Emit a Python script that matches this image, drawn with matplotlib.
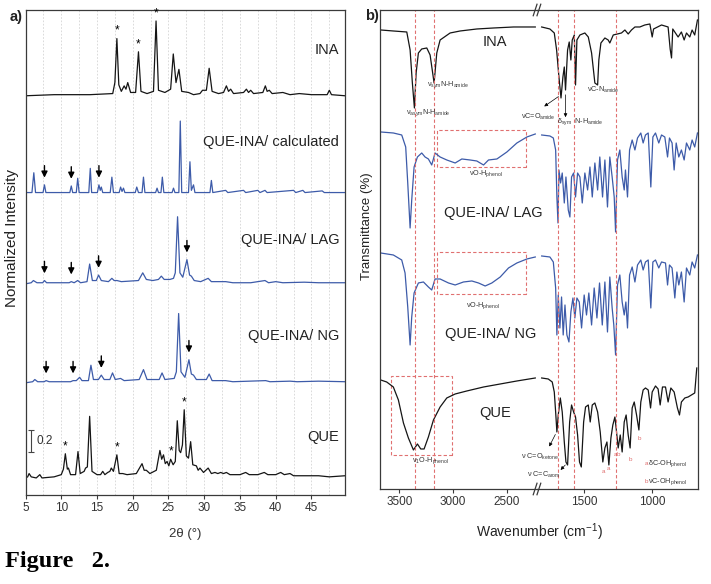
import matplotlib as mpl
import matplotlib.pyplot as plt
import matplotlib.patches as patches
import numpy as np

mpl.use("Agg")
plt.rcParams["font.family"] = ["Liberation Sans", "DejaVu Sans"]
plt.rcParams["mathtext.fontset"] = "custom"
plt.rcParams["mathtext.rm"] = "Liberation Sans"
plt.rcParams["mathtext.it"] = "Liberation Sans:italic"

# ---------------- a) PXRD patterns (2theta, normalized intensity) ----------------
ina_x = [5.0, 9.0, 14.0, 17.2, 17.5, 17.78, 18.05, 18.4, 18.8, 19.05, 19.3, 19.7, 20.4, 20.8, 21.15,
         22.0, 22.9, 23.26, 23.6, 24.5, 25.3, 25.67, 26.05, 26.46, 26.85, 27.8, 28.5, 29.4, 29.76,
         30.3, 30.69, 31.1, 32.0, 32.7, 33.1, 33.4, 33.7, 34.1, 35.5, 35.9, 36.2, 36.5, 36.9, 38.2,
         38.55, 38.8, 39.1, 39.5, 41.0, 42.0, 43.3, 45.0, 47.2, 47.5, 47.8, 49.7]
ina_y = [0.0, 0.01, 0.01, 0.02, 0.12, 0.52, 0.10, 0.04, 0.09, 0.06, 0.12, 0.03, 0.03, 0.40, 0.04,
         0.02, 0.04, 0.68, 0.05, 0.03, 0.06, 0.38, 0.12, 0.24, 0.04, 0.03, 0.01, 0.02, 0.05,
         0.05, 0.25, 0.04, 0.02, 0.03, 0.09, 0.04, 0.06, 0.02, 0.03, 0.06, 0.03, 0.05, 0.02, 0.03,
         0.09, 0.04, 0.05, 0.02, 0.03, 0.01, 0.02, 0.01, 0.01, 0.05, 0.01, 0.0]

calc_x = [5.0, 5.9, 6.16, 6.4, 7.45, 7.65, 7.85, 11.2, 11.4, 11.6, 12.1, 12.3, 12.5, 13.85, 14.06,
          14.25, 15.05, 15.27, 15.45, 15.6, 15.8, 16.85, 17.08, 17.3, 18.1, 18.3, 18.5, 18.7, 18.9,
          20.35, 20.56, 20.8, 21.3, 21.5, 21.7, 23.2, 23.4, 23.6, 23.95, 24.14, 24.35, 25.5, 25.7,
          25.9, 26.45, 26.65, 26.85, 27.8, 28.0, 28.2, 28.5, 28.7, 30.8, 31.0, 31.2, 33.0, 33.3,
          35.5, 35.8, 37.5, 37.8, 38.5, 38.8, 42.5, 42.8, 43.8, 44.1, 46.5, 46.8, 49.7]
calc_y = [0.0, 0.0, 0.18, 0.0, 0.0, 0.07, 0.0, 0.0, 0.06, 0.0, 0.0, 0.13, 0.0, 0.0, 0.22,
          0.0, 0.0, 0.07, 0.02, 0.05, 0.0, 0.0, 0.14, 0.0, 0.0, 0.05, 0.01, 0.04, 0.0,
          0.0, 0.05, 0.0, 0.0, 0.14, 0.0, 0.0, 0.04, 0.0, 0.0, 0.14, 0.0, 0.0, 0.04,
          0.0, 0.0, 0.65, 0.0, 0.0, 0.28, 0.02, 0.07, 0.0, 0.0, 0.11, 0.0, 0.02, 0.0,
          0.02, 0.0, 0.02, 0.0, 0.02, 0.0, 0.02, 0.0, 0.02, 0.0, 0.015, 0.0, 0.0]

lag_x = [5.0, 5.8, 6.1, 6.6, 7.4, 7.65, 7.95, 11.1, 11.4, 11.8, 12.3, 12.7, 13.6, 13.97, 14.35,
         14.9, 15.22, 15.6, 16.6, 17.08, 17.4, 17.8, 18.4, 20.8, 21.4, 21.9, 22.8, 23.6, 24.0,
         24.4, 25.2, 25.7, 25.95, 26.27, 26.6, 27.0, 27.58, 27.95, 28.2, 28.6, 29.5, 30.55, 31.0,
         33.0, 34.0, 36.5, 37.5, 38.5, 39.0, 40.0, 41.0, 44.0, 46.0, 49.7]
lag_y = [0.0, 0.01, 0.03, 0.01, 0.01, 0.03, 0.01, 0.01, 0.02, 0.01, 0.03, 0.01, 0.02, 0.18, 0.03,
         0.03, 0.08, 0.03, 0.02, 0.05, 0.03, 0.03, 0.02, 0.03, 0.10, 0.04, 0.03, 0.04, 0.07,
         0.04, 0.04, 0.05, 0.10, 0.61, 0.10, 0.06, 0.22, 0.08, 0.07, 0.03, 0.02, 0.05, 0.02,
         0.02, 0.01, 0.01, 0.02, 0.03, 0.01, 0.02, 0.01, 0.015, 0.01, 0.01]

ng_x = [5.0, 6.0, 6.3, 6.7, 7.6, 7.88, 8.3, 11.3, 11.65, 12.1, 12.57, 12.9, 13.8, 14.15, 14.5,
        15.2, 15.6, 16.0, 16.8, 17.17, 17.55, 18.3, 18.8, 20.9, 21.5, 22.0, 23.7, 24.1, 24.5,
        25.8, 26.1, 26.42, 26.75, 27.3, 27.86, 28.2, 28.5, 28.9, 30.3, 30.69, 31.1, 33.0, 34.0,
        38.6, 39.2, 42.0, 43.0, 46.0, 49.7]
ng_y = [0.0, 0.01, 0.03, 0.01, 0.01, 0.02, 0.01, 0.01, 0.02, 0.02, 0.05, 0.02, 0.02, 0.16, 0.03,
        0.03, 0.07, 0.03, 0.03, 0.09, 0.03, 0.04, 0.02, 0.03, 0.12, 0.03, 0.03, 0.09, 0.03,
        0.04, 0.10, 0.63, 0.10, 0.05, 0.21, 0.08, 0.07, 0.03, 0.03, 0.08, 0.02, 0.02, 0.01,
        0.02, 0.01, 0.015, 0.01, 0.015, 0.01]

que_x = [5.0, 5.3, 5.5, 5.8, 6.5, 7.0, 7.3, 9.0, 10.0, 10.3, 10.57, 10.85, 11.0, 11.3, 12.0,
         12.34, 12.65, 13.2, 13.4, 13.65, 13.97, 14.3, 15.0, 15.5, 15.8, 16.1, 16.5, 16.8, 17.0,
         17.3, 17.78, 18.1, 18.6, 19.2, 20.5, 21.3, 21.6, 21.9, 22.4, 23.3, 23.8, 24.05, 24.3,
         24.55, 24.8, 25.05, 25.3, 25.65, 25.95, 26.23, 26.5, 26.7, 26.95, 27.2, 27.5, 27.8, 28.1,
         28.4, 28.9, 29.15, 29.4, 29.9, 30.55, 31.0, 31.5, 31.9, 32.3, 32.7, 33.1, 33.6, 35.0,
         35.8, 36.3, 37.5, 38.4, 38.9, 40.0, 40.7, 41.2, 42.0, 42.5, 44.0, 46.0, 47.5, 49.7]
que_y = [0.0, 0.01, 0.04, 0.01, 0.0, 0.03, 0.0, 0.01, 0.03, 0.08, 0.22, 0.08, 0.09, 0.03, 0.03,
         0.24, 0.04, 0.06, 0.09, 0.10, 0.56, 0.06, 0.03, 0.03, 0.06, 0.03, 0.05, 0.06, 0.09,
         0.06, 0.21, 0.04, 0.04, 0.03, 0.04, 0.13, 0.07, 0.07, 0.04, 0.07, 0.25, 0.17, 0.21,
         0.13, 0.15, 0.11, 0.17, 0.12, 0.15, 0.52, 0.25, 0.23, 0.30, 0.62, 0.20, 0.18, 0.33,
         0.12, 0.11, 0.07, 0.09, 0.05, 0.09, 0.04, 0.05, 0.04, 0.05, 0.04, 0.05, 0.03, 0.03,
         0.05, 0.03, 0.03, 0.05, 0.03, 0.03, 0.05, 0.03, 0.04, 0.02, 0.02, 0.02, 0.01, 0.02]

xrd_names = ["INA", "QUE-INA/ calculated", "QUE-INA/ LAG", "QUE-INA/ NG", "QUE"]
xrd_offsets = [3.63, 2.75, 1.92, 1.02, 0.155]
xrd_label_y = [4.05, 3.21, 2.32, 1.45, 0.53]
arrows_calc = [7.65, 11.4, 15.27]
arrows_lag = [7.65, 11.4, 15.22, 27.58]
arrows_ng = [7.88, 11.65, 15.6, 27.86]
stars_ina = [17.78, 20.8, 23.26]
stars_que = [10.57, 17.78, 25.3, 27.2]

# ---------------- b) FTIR spectra (wavenumber, transmittance a.u.) ----------------
ina_hi_wn = [3673, 3556, 3431, 3400, 3379, 3360, 3344, 3323, 3292, 3245, 3214, 3177, 3152, 3121,
             3028, 2935, 2780, 2624, 2438, 2236]
ina_hi_t = [459, 458, 457, 439, 406, 381, 416, 436, 440, 441, 434, 406, 436, 449,
            456, 458, 460, 461, 462, 462]
ina_lo_wn = [1808, 1748, 1716, 1699, 1682, 1667, 1653, 1643, 1634, 1619, 1607, 1595, 1585, 1570,
             1561, 1551, 1529, 1493, 1468, 1444, 1420, 1400, 1391, 1376, 1347, 1323, 1311, 1286,
             1226, 1201, 1177, 1153, 1128, 1092, 1056, 1019, 1002, 992, 934, 886, 871, 861, 852,
             813, 789, 769, 752, 728, 711, 692, 672]
ina_lo_t = [462, 460, 456, 439, 412, 391, 412, 422, 399, 439, 447, 429, 449, 454,
            404, 449, 454, 456, 452, 436, 406, 404, 429, 446, 451, 449, 446, 454,
            456, 459, 455, 459, 462, 462, 464, 465, 452, 460, 464, 462, 440, 431, 460,
            452, 457, 449, 456, 452, 459, 454, 469]

lag_hi_wn = [3673, 3556, 3478, 3441, 3422, 3400, 3385, 3363, 3332, 3292, 3261, 3230, 3199, 3168,
             3121, 3059, 2981, 2919, 2842, 2780, 2717, 2671, 2593, 2500, 2407, 2314, 2236]
lag_hi_t = [357, 356, 354, 342, 306, 261, 289, 322, 332, 336, 332, 330, 324, 336,
            332, 329, 326, 330, 329, 328, 324, 329, 330, 337, 346, 352, 355]
lag_lo_wn = [1808, 1748, 1723, 1706, 1697, 1689, 1682, 1670, 1658, 1643, 1631, 1614, 1602, 1590,
             1575, 1561, 1546, 1529, 1512, 1493, 1473, 1456, 1439, 1420, 1400, 1384, 1364, 1347,
             1328, 1311, 1294, 1279, 1269, 1255, 1238, 1221, 1206, 1197, 1182, 1167, 1148, 1128,
             1109, 1085, 1068, 1051, 1031, 1012, 997, 978, 954, 934, 910, 890, 876, 857, 842,
             827, 808, 789, 769, 752, 728, 711, 692, 672]
lag_lo_t = [354, 353, 351, 339, 292, 266, 319, 306, 316, 286, 312, 279, 272, 312,
            316, 292, 316, 312, 286, 316, 299, 322, 292, 326, 299, 332, 292, 329,
            282, 332, 312, 292, 257, 329, 339, 312, 299, 319, 292, 339, 349, 339,
            351, 356, 346, 354, 356, 302, 352, 356, 346, 354, 352, 332, 351, 346, 319,
            346, 332, 339, 329, 346, 339, 349, 342, 356]

ng_hi_wn = [3673, 3556, 3478, 3447, 3422, 3400, 3385, 3363, 3323, 3276, 3230, 3199, 3168, 3121,
            3043, 2981, 2904, 2826, 2764, 2702, 2640, 2562, 2485, 2407, 2314, 2236]
ng_hi_t = [236, 234, 229, 216, 182, 144, 172, 196, 206, 207, 202, 199, 210, 210,
           206, 204, 207, 208, 206, 203, 206, 212, 221, 226, 230, 232]
ng_lo_wn = [1808, 1748, 1723, 1706, 1697, 1687, 1675, 1663, 1651, 1638, 1624, 1609, 1595, 1580,
            1566, 1551, 1534, 1517, 1498, 1481, 1464, 1444, 1425, 1405, 1386, 1366, 1347, 1328,
            1311, 1294, 1282, 1269, 1255, 1238, 1221, 1206, 1194, 1182, 1167, 1148, 1128, 1109,
            1085, 1068, 1051, 1031, 1012, 997, 978, 954, 934, 905, 890, 876, 857, 837, 822, 808,
            789, 769, 752, 728, 711, 692, 672]
ng_lo_t = [233, 232, 227, 201, 154, 194, 161, 192, 154, 184, 154, 147, 177, 191,
           171, 191, 187, 161, 194, 174, 196, 164, 201, 171, 206, 164, 207, 157,
           212, 181, 164, 134, 204, 214, 187, 174, 187, 161, 214, 222, 207, 224,
           229, 219, 227, 229, 181, 227, 229, 221, 227, 226, 204, 224, 221, 191, 217, 204,
           217, 187, 221, 214, 227, 221, 234]

que_hi_wn = [3673, 3618, 3556, 3509, 3462, 3416, 3369, 3332, 3301, 3270, 3230, 3183, 3121, 3059,
             2981, 2873, 2717, 2562, 2407, 2236]
que_hi_t = [109, 107, 102, 89, 66, 51, 39, 45, 40, 40, 52, 69, 82, 91,
            95, 98, 102, 105, 108, 111]
que_lo_wn = [1808, 1760, 1731, 1716, 1706, 1697, 1687, 1672, 1658, 1643, 1631, 1619, 1604, 1590,
             1575, 1561, 1546, 1532, 1519, 1502, 1488, 1468, 1454, 1439, 1420, 1400, 1381, 1362,
             1347, 1332, 1318, 1303, 1289, 1274, 1265, 1250, 1235, 1221, 1206, 1192, 1177, 1163,
             1148, 1133, 1116, 1099, 1085, 1068, 1051, 1031, 1014, 1002, 978, 959, 944, 927, 905,
             886, 866, 842, 818, 803, 789, 764, 740, 716, 692, 677]
que_lo_t = [111, 110, 107, 97, 77, 57, 74, 91, 77, 47, 27, 24, 67, 84,
            77, 72, 54, 27, 22, 67, 82, 84, 67, 84, 86, 77, 57, 27,
            41, 47, 24, 51, 64, 72, 61, 41, 54, 37, 67, 74, 54, 41,
            81, 87, 74, 59, 87, 99, 101, 99, 81, 97, 103, 100, 84, 102, 102,
            87, 101, 97, 81, 74, 87, 91, 92, 94, 96, 121]

ir_names = ["INA", "QUE-INA/ LAG", "QUE-INA/ NG", "QUE"]
ir_dashed_hi = [3352, 3177]
ir_dashed_lo = [1692, 1571, 1269]

black = "#151515"
blue = "#3d5ba9"
red = "#e07070"
frame = "#3a3a3a"

fig = plt.figure(figsize=(7.11, 5.84), dpi=100)

# ---------------- panel a ----------------
axa = fig.add_axes([0.0359, 0.1524, 0.4494, 0.8305])
xrd = [(ina_x, ina_y), (calc_x, calc_y), (lag_x, lag_y), (ng_x, ng_y), (que_x, que_y)]
colors_a = [black, blue, blue, blue, black]
for (x, y), off, c, name, ly in zip(xrd, xrd_offsets, colors_a, xrd_names, xrd_label_y):
    axa.plot(x, np.array(y) + off, color=c, lw=0.9)
    axa.text(48.9, ly, name, ha="right", va="center", fontsize=10.5, color="#222222")

for xs, (x, y), off in [(arrows_calc, xrd[1], xrd_offsets[1]),
                        (arrows_lag, xrd[2], xrd_offsets[2]),
                        (arrows_ng, xrd[3], xrd_offsets[3])]:
    for xa in xs:
        tip = off + np.interp(xa, x, y) + 0.04
        axa.annotate("", xy=(xa, tip), xytext=(xa, tip + 0.16),
                     arrowprops=dict(arrowstyle="-|>", color="k", lw=1.0, mutation_scale=9))

for xs, (x, y), off in [(stars_ina, xrd[0], xrd_offsets[0]), (stars_que, xrd[4], xrd_offsets[4])]:
    for xs_ in xs:
        axa.text(xs_, off + np.interp(xs_, x, y) + 0.07, "*", ha="center", va="center",
                 fontsize=8.5, color="k")

# 0.2 intensity scale bar
axa.errorbar(5.7, 0.49, yerr=0.1, color="#444444", capsize=2.2, lw=0.8, capthick=0.8)
axa.text(6.6, 0.49, "0.2", va="center", ha="left", fontsize=8.5, color="#333333")

axa.set_xlim(5, 49.7)
axa.set_ylim(0, 4.41)
axa.set_yticks([])
axa.set_xticks(range(5, 50, 5))
axa.set_xticks(np.arange(7.5, 49, 2.5), minor=True)
axa.tick_params(axis="x", which="major", direction="out", length=3, labelsize=8.5,
                color=frame, labelcolor="#333333", pad=2)
axa.tick_params(axis="x", which="minor", length=0)
axa.grid(True, which="both", axis="x", color="#d4d4d4", lw=0.6, ls=(0, (2, 2)))
axa.set_axisbelow(True)
for s in axa.spines.values():
    s.set_color(frame)
    s.set_linewidth(0.9)
axa.set_xlabel("2θ (°)", fontsize=9.5, color="#333333", labelpad=10)
axa.set_ylabel("Normalized Intensity", fontsize=11, color="#222222")
axa.yaxis.set_label_coords(-0.02, 0.529)

# ---------------- panel b ----------------
axl = fig.add_axes([380 / 711, 0.1627, 157 / 711, 0.8202])
axr = fig.add_axes([537 / 711, 0.1627, 161 / 711, 0.8202])
axr.patch.set_alpha(0)
hi = [(ina_hi_wn, ina_hi_t), (lag_hi_wn, lag_hi_t), (ng_hi_wn, ng_hi_t), (que_hi_wn, que_hi_t)]
lo = [(ina_lo_wn, ina_lo_t), (lag_lo_wn, lag_lo_t), (ng_lo_wn, ng_lo_t), (que_lo_wn, que_lo_t)]
colors_b = [black, blue, blue, black]
for (xh, yh), (xl, yl), c in zip(hi, lo, colors_b):
    axl.plot(xh, yh, color=c, lw=0.9)
    axr.plot(xl, yl, color=c, lw=0.9)

for wn in ir_dashed_hi:
    axl.axvline(wn, color=red, lw=0.8, ls=(0, (3, 2)))
for wn in ir_dashed_lo:
    axr.axvline(wn, color=red, lw=0.8, ls=(0, (3, 2)))

for (x0, x1, y0, y1) in [(2320, 3149, 322, 359), (2320, 3149, 195, 237), (3009, 3577, 34, 113)]:
    axl.add_patch(patches.Rectangle((x0, y0), x1 - x0, y1 - y0, fill=False, edgecolor=red,
                                    lw=0.8, ls=(0, (3, 2))))

axl.set_xlim(3680, 2220)
axr.set_xlim(1842, 668)
for ax in (axl, axr):
    ax.set_ylim(0, 479)
    ax.set_yticks([])
    ax.tick_params(axis="x", direction="out", length=3, labelsize=8.5, color=frame,
                   labelcolor="#333333", pad=2)
    for s in ax.spines.values():
        s.set_color(frame)
        s.set_linewidth(0.9)
axl.set_xticks([3500, 3000, 2500])
axr.set_xticks([1500, 1000])
axl.spines["right"].set_visible(False)
axr.spines["left"].set_visible(False)

# break marks
for yb in (0, 1):
    for dx in (-0.012, 0.012):
        axl.plot([1 + dx - 0.012, 1 + dx + 0.012], [yb - 0.012, yb + 0.012],
                 transform=axl.transAxes, color=frame, lw=0.9, clip_on=False)

axl.set_ylabel("Transmittance (%)", fontsize=9.5, color="#222222")
axl.yaxis.set_label_coords(-0.045, 0.549)
fig.text(539 / 711, 1 - 532 / 584, "Wavenumber (cm$^{-1}$)", ha="center", va="center",
         fontsize=10, color="#222222")

tsz = 10.5
axl.text(2609, 447, "INA", ha="center", va="center", fontsize=tsz, color="#222222")
axl.text(2627, 276, "QUE-INA/ LAG", ha="center", va="center", fontsize=tsz, color="#222222")
axl.text(2655, 155, "QUE-INA/ NG", ha="center", va="center", fontsize=tsz, color="#222222")
axl.text(2609, 76, "QUE", ha="center", va="center", fontsize=tsz, color="#222222")

ssz = 5.2
gray = "#333333"
axl.text(3438, 376, r"ν$_{\mathrm{asym}}$N-H$_{\mathrm{amide}}$", ha="left", va="center",
         fontsize=ssz, color=gray)
axl.text(3245, 404, r"ν$_{\mathrm{sym}}$N-H$_{\mathrm{amide}}$", ha="left", va="center",
         fontsize=ssz, color=gray)
axl.text(2699, 315, r"νO-H$_{\mathrm{phenol}}$", ha="center", va="center", fontsize=ssz, color=gray)
axl.text(2724, 183, r"νO-H$_{\mathrm{phenol}}$", ha="center", va="center", fontsize=ssz, color=gray)
axl.text(3214, 28, r"ν$_{\mathrm{1}}$O-H$_{\mathrm{phenol}}$", ha="center", va="center",
         fontsize=ssz, color=gray)

arw = dict(arrowstyle="-|>", color="k", lw=0.5, mutation_scale=5)
axr.text(1711, 372, r"νC=O$_{\mathrm{amide}}$", ha="right", va="center", fontsize=ssz,
         color=gray, clip_on=False)
axr.annotate("", xy=(1806, 381), xytext=(1669, 394), arrowprops=arw, annotation_clip=False)
axr.text(1699, 367, r"δ$_{\mathrm{sym}}$  N-H$_{\mathrm{amide}}$", ha="left", va="center",
         fontsize=ssz, color=gray)
axr.annotate("", xy=(1634, 369), xytext=(1634, 397), arrowprops=arw)
axr.text(1480, 399, r"νC-N$_{\mathrm{amide}}$", ha="left", va="center", fontsize=ssz, color=gray)

axr.text(1961, 32, r"ν C=O$_{\mathrm{ketone}}$", ha="left", va="center", fontsize=ssz,
         color=gray, clip_on=False)
axr.annotate("", xy=(1762, 40), xytext=(1699, 57), arrowprops=arw, annotation_clip=False)
axr.text(1917, 14, r"ν C=C$_{\mathrm{arom}}$", ha="left", va="center", fontsize=ssz,
         color=gray, clip_on=False)
axr.annotate("", xy=(1684, 17), xytext=(1622, 26), arrowprops=arw, annotation_clip=False)

ab_text = ["a", "a", "a", "b", "b", "b"]
ab_wn = [1359, 1318, 1268, 1252, 1160, 1092]
ab_t = [17, 20, 34, 34, 29, 50]
for s, w, t in zip(ab_text, ab_wn, ab_t):
    axr.text(w, t, s, ha="center", va="center", fontsize=4.5, color=red)
axr.text(1056, 25, "a", ha="left", va="center", fontsize=4.5, color=red)
axr.text(1030, 25, r"δC-OH$_{\mathrm{phenol}}$", ha="left", va="center", fontsize=ssz, color=gray)
axr.text(1056, 7, "b", ha="left", va="center", fontsize=4.5, color=red)
axr.text(1030, 7, r"νC-OH$_{\mathrm{phenol}}$", ha="left", va="center", fontsize=ssz, color=gray)

# panel tags and caption
fig.text(10 / 711, 1 - 17 / 584, "a)", fontsize=10.5, fontweight="bold", va="center",
         color="#222222")
fig.text(365 / 711, 1 - 16 / 584, "b)", fontsize=10.5, fontweight="bold", va="center",
         color="#222222")
fig.text(5 / 711, 1 - 561 / 584, "Figure   2.", fontsize=17.5, fontweight="bold",
         family="Liberation Serif", va="center", ha="left")

fig.savefig("out.png", dpi=100)
